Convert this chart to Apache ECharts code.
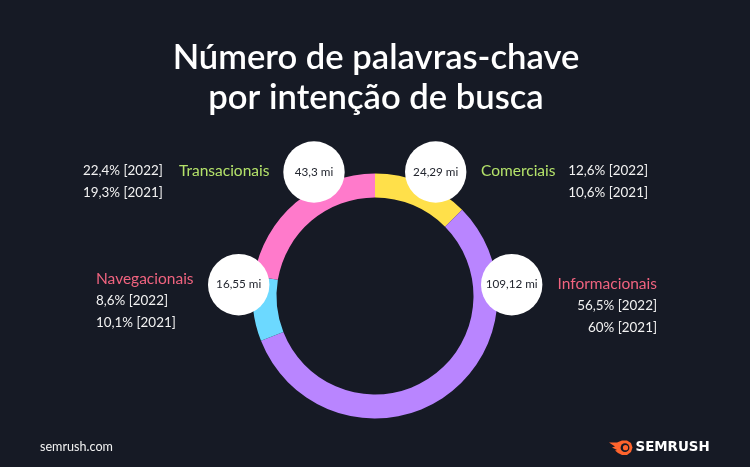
<!DOCTYPE html>
<html>
<head>
<meta charset="utf-8">
<style>
html,body{margin:0;padding:0;background:#161a25;}
#main{width:750px;height:467px;}
</style>
<script src="https://cdn.jsdelivr.net/npm/echarts@6/dist/echarts.min.js"></script>
</head>
<body>
<div id="main"></div>
<script>
var categories = ['Comerciais', 'Informacionais', 'Navegacionais', 'Transacionais'];
var values2022 = [12.6, 56.5, 8.6, 22.4];
var values2021 = ['10,6%', '60%', '10,1%', '19,3%'];
var labels2022 = ['12,6%', '56,5%', '8,6%', '22,4%'];
var volumes = ['24,29 mi', '109,12 mi', '16,55 mi', '43,3 mi'];
var sliceColors = ['#ffe04a', '#b985ff', '#6cd9ff', '#ff7acb'];

var font = 'Lato';
var green = '#b4e26a';
var red = '#f0637f';
var white = '#f2f2f2';

function txt(x, y, s, color, align, size, weight){
    return {
        type: 'text',
        x: x,
        y: y,
        z: 100,
        style: {
            text: s,
            fill: color,
            align: align,
            verticalAlign: 'middle',
            font: (weight || 400) + ' ' + (size || 13.4) + 'px ' + font
        }
    };
}

function bubble(x, y, s){
    return {
        type: 'group',
        x: x,
        y: y,
        z: 100,
        children: [{
            type: 'circle',
            z: 100,
            shape: {cx: 0, cy: 0, r: 30.7},
            style: {fill: '#ffffff'}
        },{
            type: 'text',
            x: 0,
            y: 0,
            z: 101,
            style: {
                text: s,
                fill: '#23262f',
                align: 'center',
                verticalAlign: 'middle',
                font: '400 11.7px ' + font
            }
        }]
    };
}

var option = {
    animation: false,
    backgroundColor: '#161a25',
    series: [{
        type: 'pie',
        z: 1,
        center: [375, 296],
        radius: [98.5, 122.5],
        startAngle: 90,
        clockwise: true,
        silent: true,
        label: {show: false},
        labelLine: {show: false},
        itemStyle: {borderWidth: 0, borderRadius: 0},
        data: categories.map(function(name, i){
            return {name: name, value: values2022[i], itemStyle: {color: sliceColors[i], borderWidth: 0}};
        })
    }],
    graphic: [
        txt(376, 58, 'Número de palavras-chave', '#ffffff', 'center', 34.6, 600),
        txt(376, 98, 'por intenção de busca', '#ffffff', 'center', 34.6, 600),

        bubble(435.7, 172, volumes[0]),
        txt(481, 171, categories[0], green, 'left', 15.5),
        txt(648, 171, labels2022[0] + ' [2022]', white, 'right'),
        txt(648, 193, values2021[0] + ' [2021]', white, 'right'),

        bubble(511.7, 284.7, volumes[1]),
        txt(657, 284, categories[1], red, 'right', 15.5),
        txt(657, 306, labels2022[1] + ' [2022]', white, 'right'),
        txt(657, 328, values2021[1] + ' [2021]', white, 'right'),

        bubble(238.7, 284.7, volumes[2]),
        txt(96, 279, categories[2], red, 'left', 15.5),
        txt(96, 301, labels2022[2] + ' [2022]', white, 'left'),
        txt(96, 323, values2021[2] + ' [2021]', white, 'left'),

        bubble(314, 172, volumes[3]),
        txt(179, 171, categories[3], green, 'left', 15.5),
        txt(83, 171, labels2022[3] + ' [2022]', white, 'left'),
        txt(83, 193, values2021[3] + ' [2021]', white, 'left'),

        txt(40, 447, 'semrush.com', white, 'left', 12.6),

        // logo
        {
            type: 'polygon',
            z: 100,
            shape: {
                points: [[609, 442.5], [617, 442.5], [622, 440.5], [627, 440.5], [631, 443], [632.5, 447.5], [631, 452], [627, 455], [622, 455], [618, 453], [615, 450.5], [617, 450], [612, 447.5], [615, 446.5]]
            },
            style: {fill: '#ff642d'}
        },
        {type: 'circle', z: 101, shape: {cx: 625, cy: 447.7, r: 4.4}, style: {fill: '#161a25'}},
        {type: 'circle', z: 102, shape: {cx: 625.5, cy: 447.7, r: 2.6}, style: {fill: '#ff642d'}},
        {
            type: 'text',
            x: 635.5,
            y: 448,
            z: 100,
            style: {
                text: 'SEMRUSH',
                fill: '#ffffff',
                align: 'left',
                verticalAlign: 'middle',
                font: '700 13.4px "DejaVu Sans"'
            }
        }
    ]
};

var chart = echarts.init(document.getElementById('main'), null, {renderer: 'canvas'});
chart.setOption(option);
</script>
</body>
</html>
